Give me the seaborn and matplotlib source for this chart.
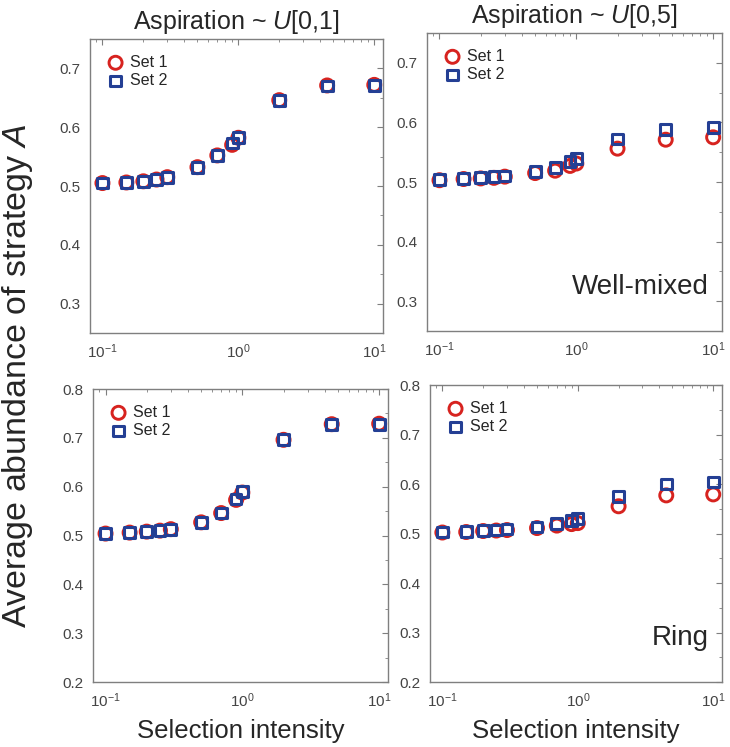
import matplotlib
matplotlib.use("Agg")
import matplotlib.pyplot as plt
from matplotlib.ticker import AutoMinorLocator, MultipleLocator
import numpy as np
import seaborn as sns

# ---------------- data ----------------
intensity = [0.1, 0.15, 0.2, 0.25, 0.3, 0.5, 0.7, 0.9, 1.0, 2.0, 4.5, 10.0]

# well-mixed, aspiration ~ U[0,1]
wm_u01_set1 = [0.505, 0.506, 0.508, 0.511, 0.515, 0.532, 0.552, 0.570, 0.582, 0.646, 0.671, 0.672]
wm_u01_set2 = [0.505, 0.506, 0.508, 0.511, 0.515, 0.532, 0.552, 0.573, 0.583, 0.646, 0.670, 0.671]
# well-mixed, aspiration ~ U[0,5]
wm_u05_set1 = [0.503, 0.505, 0.506, 0.507, 0.509, 0.515, 0.519, 0.527, 0.531, 0.556, 0.571, 0.575]
wm_u05_set2 = [0.504, 0.506, 0.507, 0.509, 0.510, 0.517, 0.524, 0.535, 0.539, 0.572, 0.588, 0.591]
# ring, aspiration ~ U[0,1]
ring_u01_set1 = [0.504, 0.506, 0.508, 0.510, 0.513, 0.527, 0.546, 0.573, 0.588, 0.696, 0.728, 0.729]
ring_u01_set2 = [0.504, 0.506, 0.508, 0.510, 0.513, 0.527, 0.546, 0.575, 0.590, 0.696, 0.727, 0.728]
# ring, aspiration ~ U[0,5]
ring_u05_set1 = [0.502, 0.503, 0.505, 0.506, 0.507, 0.511, 0.516, 0.519, 0.521, 0.555, 0.577, 0.579]
ring_u05_set2 = [0.503, 0.504, 0.506, 0.507, 0.509, 0.513, 0.520, 0.527, 0.531, 0.575, 0.600, 0.604]

panels = [
    ("tl", wm_u01_set1, wm_u01_set2, (0.25, 0.75), "Aspiration ~ $U$[0,1]", None),
    ("tr", wm_u05_set1, wm_u05_set2, (0.25, 0.75), "Aspiration ~ $U$[0,5]", "Well-mixed"),
    ("bl", ring_u01_set1, ring_u01_set2, (0.2, 0.8), None, None),
    ("br", ring_u05_set1, ring_u05_set2, (0.2, 0.8), None, "Ring"),
]

# ---------------- style ----------------
sns.set_style("white")
plt.rcParams["font.family"] = ["Liberation Sans", "DejaVu Sans"]
plt.rcParams["mathtext.fontset"] = "custom"
plt.rcParams["mathtext.rm"] = "Liberation Sans"
plt.rcParams["mathtext.it"] = "Liberation Sans:italic"

red = "#d7231f"
blue = "#243f94"
frame = "#7f7f7f"

fig = plt.figure(figsize=(7.3, 7.47), dpi=100)
positions = {
    "tl": [0.1233, 0.5542, 0.4014, 0.3936],
    "tr": [0.5849, 0.5569, 0.4041, 0.3989],
    "bl": [0.1274, 0.0870, 0.4041, 0.3922],
    "br": [0.5890, 0.0870, 0.4000, 0.3976],
}

for key, set1, set2, ylim, title, tag in panels:
    ax = fig.add_axes(positions[key])
    sns.scatterplot(x=intensity, y=set1, ax=ax, marker="o", s=88,
                    color=red, facecolors="none", edgecolor=red,
                    linewidth=2.1, label="Set 1", zorder=3)
    sns.scatterplot(x=intensity, y=set2, ax=ax, marker="s", s=60,
                    color=blue, facecolors="none", edgecolor=blue,
                    linewidth=2.2, label="Set 2", zorder=4)
    ax.set_xscale("log")
    ax.set_xlim(0.081, 11.6)
    ax.set_ylim(*ylim)
    ax.yaxis.set_major_locator(MultipleLocator(0.1))
    ax.yaxis.set_minor_locator(AutoMinorLocator(2))
    ax.yaxis.set_major_formatter(matplotlib.ticker.FormatStrFormatter("%.1f"))
    ax.tick_params(which="both", direction="in", top=True, right=True,
                   color=frame, labelcolor="#444444", labelsize=11)
    ax.tick_params(which="major", length=4, width=0.8, pad=7)
    ax.tick_params(which="minor", length=2.5, width=0.6)
    for sp in ax.spines.values():
        sp.set_color(frame)
        sp.set_linewidth(1.0)
    ax.legend(loc="upper left", frameon=False, fontsize=11.5,
              handletextpad=0.3, borderaxespad=0.6, labelspacing=0.2,
              handlelength=1.2, markerscale=1.0)
    if title:
        ax.set_title(title, fontsize=18, pad=7)
    if tag:
        ax.text(0.955, 0.125, tag, transform=ax.transAxes, ha="right",
                va="baseline", fontsize=20)
    if key in ("bl", "br"):
        ax.set_xlabel("Selection intensity", fontsize=18.5, labelpad=6)
    ax.set_ylabel("")

fig.text(0.024, 0.497, "Average abundance of strategy $A$", rotation=90,
         ha="center", va="center", fontsize=24.5)

fig.savefig("out.png", dpi=100)
plt.close(fig)
